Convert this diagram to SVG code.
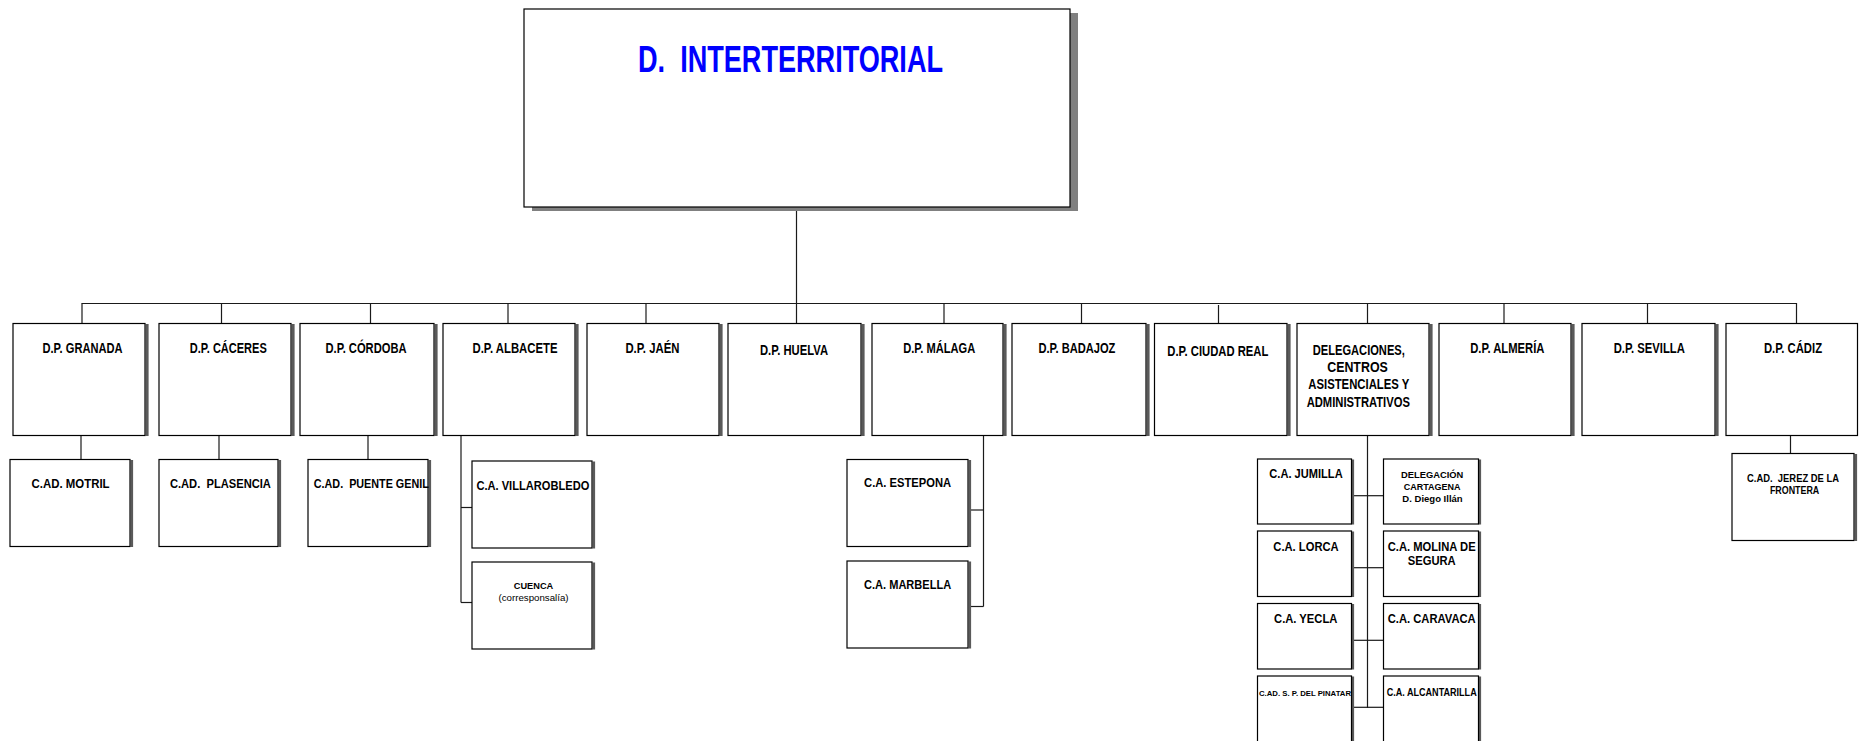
<svg xmlns="http://www.w3.org/2000/svg" width="1860" height="741" viewBox="0 0 1860 741">
<style>
.bg{fill:#fff}
.box{fill:#fff;stroke:#000;stroke-width:1.2}
.sh{fill:#5a5a5a}
.msh{fill:#808080}
.t{font-family:"Liberation Sans",Arial,sans-serif;font-weight:bold;text-anchor:middle;fill:#000;white-space:pre}
.r{font-weight:normal}
.f14{font-size:14px}
.f15{font-size:15px}
.f13{font-size:13px}
.f12{font-size:12px}
.f10{font-size:10.5px}
.f9{font-size:9.5px}
.f8{font-size:8px}
.title{font-size:37px;fill:#0000ff}
.conn line{stroke:#1a1a1a;stroke-width:1.2}
</style>
<rect class="bg" x="0" y="0" width="1860" height="741"/>

<g id="connectors" class="conn">
  <line x1="796.5" y1="207" x2="796.5" y2="323.5"/>
  <line x1="81.5" y1="303.5" x2="1797" y2="303.5"/>
  <line x1="82" y1="303.5" x2="82" y2="323.5"/>
  <line x1="221.5" y1="303.5" x2="221.5" y2="323.5"/>
  <line x1="370.5" y1="303.5" x2="370.5" y2="323.5"/>
  <line x1="508" y1="303.5" x2="508" y2="323.5"/>
  <line x1="646" y1="303.5" x2="646" y2="323.5"/>
  <line x1="944" y1="303.5" x2="944" y2="325.5"/>
  <line x1="1081.5" y1="303.5" x2="1081.5" y2="327"/>
  <line x1="1218.5" y1="305" x2="1218.5" y2="327"/>
  <line x1="1367.5" y1="303.5" x2="1367.5" y2="323.5"/>
  <line x1="1504" y1="303.5" x2="1504" y2="323.5"/>
  <line x1="1647.5" y1="303.5" x2="1647.5" y2="323.5"/>
  <line x1="1796.5" y1="303" x2="1796.5" y2="323.5"/>
  <line x1="81" y1="435.5" x2="81" y2="459.5"/>
  <line x1="219" y1="435.5" x2="219" y2="459.5"/>
  <line x1="368" y1="435.5" x2="368" y2="461.5"/>
  <line x1="461" y1="435.5" x2="461" y2="602.5"/>
  <line x1="461" y1="507.5" x2="472" y2="507.5"/>
  <line x1="461" y1="602.5" x2="472" y2="602.5"/>
  <line x1="983.5" y1="435.5" x2="983.5" y2="606.5"/>
  <line x1="970" y1="510" x2="983.5" y2="510"/>
  <line x1="970" y1="606.5" x2="983.5" y2="606.5"/>
  <line x1="1367.5" y1="435.5" x2="1367.5" y2="708"/>
  <line x1="1354" y1="495.7" x2="1383.5" y2="495.7"/>
  <line x1="1354" y1="567.7" x2="1383.5" y2="567.7"/>
  <line x1="1354" y1="640.3" x2="1383.5" y2="640.3"/>
  <line x1="1354" y1="707.3" x2="1383.5" y2="707.3"/>
  <line x1="1790.5" y1="435.5" x2="1790.5" y2="453.5"/>
</g>

<g id="n-main">
  <rect class="msh" x="532" y="13" width="546" height="198"/>
  <rect class="box" x="524" y="9" width="546" height="198"/>
  <text class="t title" x="790.5" y="71.7" textLength="305" lengthAdjust="spacingAndGlyphs" xml:space="preserve">D.  INTERTERRITORIAL</text>
</g>

<g id="n-granada">
  <rect class="sh" x="145.6" y="324" width="3" height="112"/>
  <rect class="box" x="13" y="323.5" width="132" height="112"/>
  <text class="t f14" x="82.5" y="353.3" textLength="80" lengthAdjust="spacingAndGlyphs">D.P. GRANADA</text>
</g>
<g id="n-caceres">
  <rect class="sh" x="291.6" y="324" width="3" height="112"/>
  <rect class="box" x="159" y="323.5" width="132" height="112"/>
  <text class="t f14" x="228.3" y="353.3" textLength="77" lengthAdjust="spacingAndGlyphs">D.P. CÁCERES</text>
</g>
<g id="n-cordoba">
  <rect class="sh" x="434.6" y="324" width="3" height="112"/>
  <rect class="box" x="300" y="323.5" width="134" height="112"/>
  <text class="t f14" x="366" y="353.3" textLength="81" lengthAdjust="spacingAndGlyphs">D.P. CÓRDOBA</text>
</g>
<g id="n-albacete">
  <rect class="sh" x="575.6" y="324" width="3" height="112"/>
  <rect class="box" x="443" y="323.5" width="132" height="112"/>
  <text class="t f14" x="515" y="353.3" textLength="85" lengthAdjust="spacingAndGlyphs">D.P. ALBACETE</text>
</g>
<g id="n-jaen">
  <rect class="sh" x="719.6" y="324" width="3" height="112"/>
  <rect class="box" x="587" y="323.5" width="132" height="112"/>
  <text class="t f14" x="652.4" y="353.3" textLength="54" lengthAdjust="spacingAndGlyphs">D.P. JAÉN</text>
</g>
<g id="n-huelva">
  <rect class="sh" x="861.6" y="324" width="3" height="112"/>
  <rect class="box" x="728" y="323.5" width="133" height="112"/>
  <text class="t f14" x="794" y="355" textLength="68" lengthAdjust="spacingAndGlyphs">D.P. HUELVA</text>
</g>
<g id="n-malaga">
  <rect class="sh" x="1003.6" y="324" width="3" height="112"/>
  <rect class="box" x="872" y="323.5" width="131" height="112"/>
  <text class="t f14" x="939.2" y="353.3" textLength="72" lengthAdjust="spacingAndGlyphs">D.P. MÁLAGA</text>
</g>
<g id="n-badajoz">
  <rect class="sh" x="1146.6" y="324" width="3" height="112"/>
  <rect class="box" x="1012" y="323.5" width="134" height="112"/>
  <text class="t f14" x="1076.9" y="353.3" textLength="77" lengthAdjust="spacingAndGlyphs">D.P. BADAJOZ</text>
</g>
<g id="n-ciudadreal">
  <rect class="sh" x="1287.6" y="324" width="3" height="112"/>
  <rect class="box" x="1154.5" y="323.5" width="132.5" height="112"/>
  <text class="t f15" x="1217.8" y="356" textLength="101" lengthAdjust="spacingAndGlyphs">D.P. CIUDAD REAL</text>
</g>
<g id="n-delegaciones">
  <rect class="sh" x="1429.6" y="324" width="3" height="112"/>
  <rect class="box" x="1297" y="323.5" width="132" height="112"/>
  <text class="t f15" x="1358.8" y="355" textLength="92" lengthAdjust="spacingAndGlyphs">DELEGACIONES,</text>
  <text class="t f15" x="1357.5" y="371.5" textLength="60.6" lengthAdjust="spacingAndGlyphs">CENTROS</text>
  <text class="t f15" x="1358.8" y="389.3" textLength="101" lengthAdjust="spacingAndGlyphs">ASISTENCIALES Y</text>
  <text class="t f15" x="1358.3" y="406.7" textLength="103.3" lengthAdjust="spacingAndGlyphs">ADMINISTRATIVOS</text>
</g>
<g id="n-almeria">
  <rect class="sh" x="1571.6" y="324" width="3" height="112"/>
  <rect class="box" x="1439" y="323.5" width="132" height="112"/>
  <text class="t f14" x="1507.3" y="353.3" textLength="74.3" lengthAdjust="spacingAndGlyphs">D.P. ALMERÍA</text>
</g>
<g id="n-sevilla">
  <rect class="sh" x="1715.6" y="324" width="3" height="112"/>
  <rect class="box" x="1582" y="323.5" width="133" height="112"/>
  <text class="t f14" x="1649.3" y="353.3" textLength="71.2" lengthAdjust="spacingAndGlyphs">D.P. SEVILLA</text>
</g>
<g id="n-cadiz">
  <rect class="box" x="1726" y="323.5" width="131.5" height="112"/>
  <text class="t f14" x="1793" y="353.3" textLength="58.1" lengthAdjust="spacingAndGlyphs">D.P. CÁDIZ</text>
</g>

<g id="n-motril">
  <rect class="sh" x="130.6" y="460" width="2.5" height="87"/>
  <rect class="box" x="10" y="459.5" width="120" height="87"/>
  <text class="t f13" x="70.6" y="488" textLength="78" lengthAdjust="spacingAndGlyphs">C.AD. MOTRIL</text>
</g>
<g id="n-plasencia">
  <rect class="sh" x="278.6" y="460" width="2.5" height="87"/>
  <rect class="box" x="159" y="459.5" width="119" height="87"/>
  <text class="t f13" x="220.4" y="488" textLength="101" lengthAdjust="spacingAndGlyphs" xml:space="preserve">C.AD.  PLASENCIA</text>
</g>
<g id="n-puentegenil">
  <rect class="sh" x="428.6" y="460" width="2.5" height="87"/>
  <rect class="box" x="308" y="459.5" width="120" height="87"/>
  <text class="t f13" x="371.3" y="488" textLength="115" lengthAdjust="spacingAndGlyphs" xml:space="preserve">C.AD.  PUENTE GENIL</text>
</g>
<g id="n-villarobledo">
  <rect class="sh" x="592.6" y="461.5" width="2.5" height="87"/>
  <rect class="box" x="472" y="461" width="120" height="87"/>
  <text class="t f13" x="532.9" y="489.5" textLength="113" lengthAdjust="spacingAndGlyphs">C.A. VILLAROBLEDO</text>
</g>
<g id="n-cuenca">
  <rect class="sh" x="592.6" y="562.5" width="2.5" height="87"/>
  <rect class="box" x="472" y="562" width="120" height="87"/>
  <text class="t f9" x="533.5" y="589.3" textLength="39.4" lengthAdjust="spacingAndGlyphs">CUENCA</text>
  <text class="t f9 r" x="533.5" y="600.5" textLength="70" lengthAdjust="spacingAndGlyphs">(corresponsalía)</text>
</g>
<g id="n-estepona">
  <rect class="sh" x="968.6" y="460" width="2.5" height="87"/>
  <rect class="box" x="847" y="459.5" width="121" height="87"/>
  <text class="t f13" x="907.6" y="487" textLength="87" lengthAdjust="spacingAndGlyphs">C.A. ESTEPONA</text>
</g>
<g id="n-marbella">
  <rect class="sh" x="968.6" y="561.5" width="2.5" height="87"/>
  <rect class="box" x="847" y="561" width="121" height="87"/>
  <text class="t f13" x="907.6" y="588.5" textLength="87" lengthAdjust="spacingAndGlyphs">C.A. MARBELLA</text>
</g>
<g id="n-jerez">
  <rect class="sh" x="1854.6" y="454" width="2.5" height="87"/>
  <rect class="box" x="1732" y="453.5" width="122" height="87"/>
  <text class="t f10" x="1793" y="481.7" textLength="92" lengthAdjust="spacingAndGlyphs" xml:space="preserve">C.AD.  JEREZ DE LA</text>
  <text class="t f10" x="1794.6" y="494" textLength="49.4" lengthAdjust="spacingAndGlyphs">FRONTERA</text>
</g>

<g id="n-jumilla">
  <rect class="sh" x="1351.6" y="459.5" width="2.5" height="65"/>
  <rect class="box" x="1257.5" y="459" width="94" height="65"/>
  <text class="t f12" x="1306" y="478.3" textLength="73.3" lengthAdjust="spacingAndGlyphs">C.A. JUMILLA</text>
</g>
<g id="n-cartagena">
  <rect class="sh" x="1478.6" y="459.5" width="2.5" height="65"/>
  <rect class="box" x="1383.5" y="459" width="95" height="65"/>
  <text class="t f9" x="1432.2" y="478.3" textLength="62.3" lengthAdjust="spacingAndGlyphs">DELEGACIÓN</text>
  <text class="t f9" x="1432.2" y="490" textLength="56.7" lengthAdjust="spacingAndGlyphs">CARTAGENA</text>
  <text class="t f9" x="1432.5" y="502.3" textLength="60.3" lengthAdjust="spacingAndGlyphs">D. Diego Illán</text>
</g>
<g id="n-lorca">
  <rect class="sh" x="1351.6" y="531.5" width="2.5" height="65.5"/>
  <rect class="box" x="1257.5" y="531" width="94" height="65.5"/>
  <text class="t f12" x="1306" y="551" textLength="65.3" lengthAdjust="spacingAndGlyphs">C.A. LORCA</text>
</g>
<g id="n-molina">
  <rect class="sh" x="1478.6" y="531.5" width="2.5" height="65.5"/>
  <rect class="box" x="1383.5" y="531" width="95" height="65.5"/>
  <text class="t f12" x="1431.7" y="551" textLength="88" lengthAdjust="spacingAndGlyphs">C.A. MOLINA DE</text>
  <text class="t f12" x="1431.7" y="565" textLength="48" lengthAdjust="spacingAndGlyphs">SEGURA</text>
</g>
<g id="n-yecla">
  <rect class="sh" x="1351.6" y="604" width="2.5" height="65.5"/>
  <rect class="box" x="1257.5" y="603.5" width="94" height="65.5"/>
  <text class="t f12" x="1305.7" y="623.3" textLength="63.3" lengthAdjust="spacingAndGlyphs">C.A. YECLA</text>
</g>
<g id="n-caravaca">
  <rect class="sh" x="1478.6" y="604" width="2.5" height="65.5"/>
  <rect class="box" x="1383.5" y="603.5" width="95" height="65.5"/>
  <text class="t f12" x="1431.7" y="623.3" textLength="88" lengthAdjust="spacingAndGlyphs">C.A. CARAVACA</text>
</g>
<g id="n-pinatar">
  <rect class="sh" x="1351.6" y="676.5" width="2.5" height="80"/>
  <rect class="box" x="1257.5" y="676" width="94" height="80"/>
  <text class="t f8" x="1305" y="695.7" textLength="92" lengthAdjust="spacingAndGlyphs">C.AD. S. P. DEL PINATAR</text>
</g>
<g id="n-alcantarilla">
  <rect class="sh" x="1478.6" y="676.5" width="2.5" height="80"/>
  <rect class="box" x="1383.5" y="676" width="95" height="80"/>
  <text class="t f10" x="1431.7" y="695.7" textLength="90" lengthAdjust="spacingAndGlyphs">C.A. ALCANTARILLA</text>
</g>
</svg>
